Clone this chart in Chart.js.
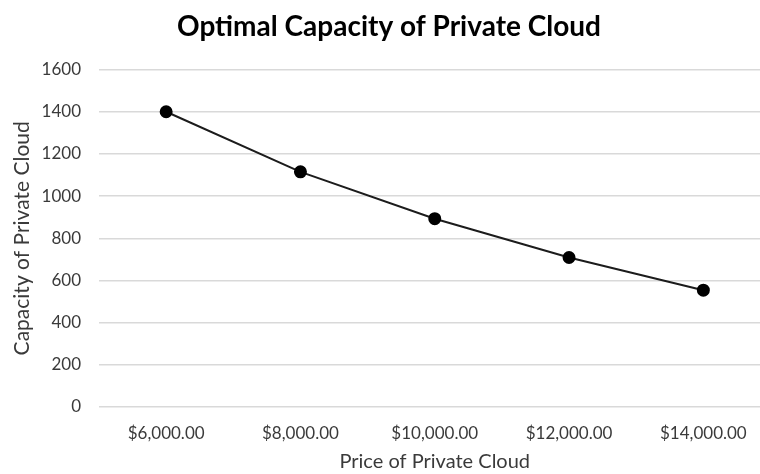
<!DOCTYPE html>
<html>
<head>
<meta charset="utf-8">
<script src="https://cdn.jsdelivr.net/npm/chart.js@4.4.0/dist/chart.umd.min.js"></script>
<style>
  html, body { margin: 0; padding: 0; background: #fff; overflow: hidden; }
</style>
</head>
<body>
<canvas id="capacity" width="778" height="474"></canvas>
<script>
// price points and resulting capacity
const prices = ["$6,000.00", "$8,000.00", "$10,000.00", "$12,000.00", "$14,000.00"];
const capacity = [1400, 1115, 893, 709, 554];
const yTicks = [0, 200, 400, 600, 800, 1000, 1200, 1400, 1600];

const textColor = "#3a3a3a";
const fontFamily = "Lato, 'Open Sans', sans-serif";

new Chart(document.getElementById("capacity"), {
    type: "line",
    data: {
        labels: prices,
        datasets: [
            {
                data: capacity,
                borderColor: "#1c1c1c",
                borderWidth: 2,
                pointRadius: 5.5,
                pointHoverRadius: 5.5,
                pointBackgroundColor: "#000",
                pointBorderColor: "#000",
                tension: 0,
            },
        ],
    },
    options: {
        responsive: false,
        animation: false,
        layout: { padding: 0 },
        plugins: {
            legend: { display: false },
            tooltip: { enabled: false },
            title: {
                display: true,
                text: "Optimal Capacity of Private Cloud",
                color: "#000",
                font: { family: fontFamily, size: 28, weight: "bold" },
                padding: { top: 10, bottom: 26 },
            },
        },
        scales: {
            x: {
                offset: true,
                grid: { display: false, drawTicks: false },
                border: { display: false },
                ticks: {
                    color: textColor,
                    padding: 16,
                    maxRotation: 0,
                    font: { family: fontFamily, size: 17 },
                },
                title: {
                    display: true,
                    text: "Price of Private Cloud",
                    color: textColor,
                    font: { family: fontFamily, size: 20 },
                    padding: { top: 4, bottom: 0 },
                },
                afterFit: (s) => { s.height = 67; },
            },
            y: {
                min: 0,
                max: 1600,
                afterBuildTicks: (s) => { s.ticks = yTicks.map((v) => ({ value: v })); },
                grid: { color: "#d9d9d9", lineWidth: 1.5, drawTicks: false },
                border: { display: false },
                ticks: {
                    color: textColor,
                    padding: 18,
                    font: { family: fontFamily, size: 17 },
                    callback: (v) => String(v),
                },
                title: {
                    display: true,
                    text: "Capacity of Private Cloud",
                    color: textColor,
                    font: { family: fontFamily, size: 21 },
                    padding: { top: 10, bottom: 4 },
                },
                afterFit: (s) => { s.width = 99; },
            },
        },
    },
});
</script>
</body>
</html>
